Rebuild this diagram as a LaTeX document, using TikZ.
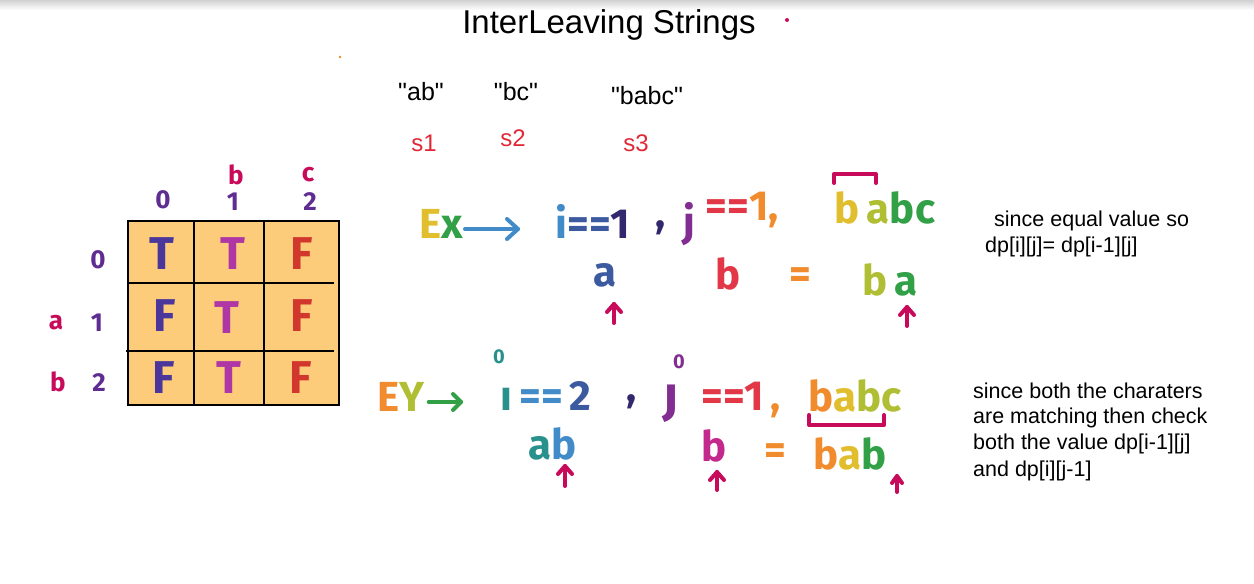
\documentclass[tikz,border=0pt]{standalone}
\usepackage{fontspec}
\usetikzlibrary{calc}
\setmainfont{Liberation Sans}
\newfontfamily\hf{Liberation Sans}
\newfontfamily\mk{Fira Sans}
\newcommand{\fsz}[1]{\fontsize{#1}{#1}\selectfont}
\definecolor{crim}{RGB}{200,10,90}
\definecolor{pur}{RGB}{95,45,145}
\definecolor{sred}{RGB}{225,40,55}
\definecolor{cellfill}{RGB}{252,204,122}
\definecolor{cA}{RGB}{75,55,155}
\definecolor{cB}{RGB}{175,55,165}
\definecolor{cC}{RGB}{210,55,45}
\definecolor{yel}{RGB}{225,190,45}
\definecolor{grn}{RGB}{50,160,70}
\definecolor{blu}{RGB}{65,140,200}
\definecolor{dblu}{RGB}{60,90,160}
\definecolor{navy}{RGB}{50,40,110}
\definecolor{vio}{RGB}{130,45,145}
\definecolor{red2}{RGB}{225,55,70}
\definecolor{ora}{RGB}{240,140,45}
\definecolor{ygr}{RGB}{175,190,50}
\definecolor{teal2}{RGB}{40,145,140}
\definecolor{mag}{RGB}{195,40,140}
\begin{document}
\begin{tikzpicture}[x=1pt,y=-1pt,
  txt/.style={inner sep=0pt,anchor=center},
  hand/.style={txt,font=\fsz{21.5}},
  strq/.style={txt,font=\hf\fsz{25}},
  mkr/.style={txt,font=\mk\bfseries\fsz{42}},
  cellT/.style={txt,font=\mk\bfseries\fsz{46}},
  lab/.style={txt,font=\mk\bfseries\fsz{26}},
  pen/.style={line width=4pt,line cap=round,line join=round},
]
\useasboundingbox (0,0) rectangle (1254,584);
\shade[top color=black!18,bottom color=white] (0,0) rectangle (1254,10);
\fill[crim] (787,20) circle (2);
\fill[ora] (340,57) circle (1.3);
% title and strings
\node[txt,font=\fsz{33}] (title) at (609,25) {InterLeaving Strings};
\node[strq] (s1t) at (421,92) {"ab"};
\node[strq] (s2t) at (516,92) {"bc"};
\node[strq] (s3t) at (647,96) {"babc"};
\node[txt,font=\fsz{24},text=sred] (s1) at (424,143) {s1};
\node[txt,font=\fsz{24},text=sred] (s2) at (513,138) {s2};
\node[txt,font=\fsz{24},text=sred] (s3) at (636,143) {s3};
% grid
\fill[cellfill] (128,221) rectangle (339,405);
\draw[line width=2pt] (128,221) rectangle (339,405);
\draw[line width=2pt] (194,221) -- (194,405);
\draw[line width=2pt] (264,221) -- (264,405);
\draw[line width=2pt] (128,283) -- (334,283);
\draw[line width=2pt] (126,351) -- (334,351);
\node[cellT,text=cA] (c00) at (162,254) {T};
\node[cellT,text=cB] (c01) at (233,254) {T};
\node[cellT,text=cC] (c02) at (302,254) {F};
\node[cellT,text=cA] (c10) at (165,316) {F};
\node[cellT,text=cB] (c11) at (227,318) {T};
\node[cellT,text=cC] (c12) at (302,316) {F};
\node[cellT,text=cA] (c20) at (164,378) {F};
\node[cellT,text=cB] (c21) at (229,378) {T};
\node[cellT,text=cC] (c22) at (301,378) {F};
% headers
\node[lab,text=pur] (h0) at (163,200) {0};
\node[lab,text=pur] (h1) at (233,202) {1};
\node[lab,text=pur] (h2) at (310,202) {2};
\node[lab,text=crim] (hb) at (236,175) {b};
\node[lab,text=crim] (hc) at (308,175) {c};
\node[lab,text=pur] (r0) at (98,260) {0};
\node[lab,text=pur] (r1) at (97,323) {1};
\node[lab,text=pur] (r2) at (99,383) {2};
\node[lab,text=crim] (ra) at (56,323) {a};
\node[lab,text=crim] (rb) at (58,382) {b};
% example 1
\node[mkr] (ex1) at (441,224) {\textcolor{yel}{E}\textcolor{grn}{x}};
\coordinate (ex1a) at (518,229);
\draw[pen,color=blu] (ex1.east) ++(2,5) -- (ex1a);
\draw[pen,color=blu] ($(ex1a)+(-11,-10)$) -- (ex1a) -- ($(ex1a)+(-11,10)$);
\node[mkr] (i1) at (593,221) {\textcolor{blu}{i}\textcolor{dblu}{==}\textcolor{navy}{1}};
\node[mkr] (cm1) at (661,228) {\textcolor{navy}{,}};
\node[mkr] (j1) at (689,224) {\textcolor{vio}{j}};
\node[mkr] (eq1) at (742,210) {\textcolor{red2}{==}\textcolor{ora}{1}\textcolor{ora}{,}};
\node[mkr] (w1) at (885,208) {\textcolor{yel}{b}\,\textcolor{ygr}{a}\textcolor{grn}{b}\textcolor{grn}{c}};
\draw[pen,color=crim] (834,183) -- (834,174) -- (876,174) -- (876,183);
\node[mkr] (a1) at (605,275) {\textcolor{dblu}{a}};
\node[mkr] (b1) at (728,274) {\textcolor{red2}{b}};
\node[mkr] (e1) at (800,278) {\textcolor{ora}{=}};
\node[mkr] (ba1) at (890,280) {\textcolor{ygr}{b}\,\textcolor{grn}{a}};
\coordinate (up1) at (614,304);
\coordinate (up2) at (907,307);
\draw[pen,color=crim] (614,323) -- (up1);
\draw[pen,color=crim] ($(up1)+(-7,8)$) -- (up1) -- ($(up1)+(7,8)$);
\draw[pen,color=crim] (907,326) -- (up2);
\draw[pen,color=crim] ($(up2)+(-7,8)$) -- (up2) -- ($(up2)+(7,8)$);
% example 2
\node[mkr] (ex2) at (401,397) {\textcolor{ora}{E}\textcolor{ygr}{Y}};
\coordinate (ex2a) at (461,402);
\draw[pen,color=grn] (ex2.east) ++(4,5) -- (ex2a);
\draw[pen,color=grn] ($(ex2a)+(-8,-8)$) -- (ex2a) -- ($(ex2a)+(-8,8)$);
\node[txt,font=\mk\bfseries\fsz{20},text=teal2] (z1) at (499,357) {0};
\node[mkr] (i2) at (546,396) {\textcolor{teal2}{ı}\,\textcolor{blu}{==}\,\textcolor{dblu}{2}};
\node[mkr] (cm2) at (632,402) {\textcolor{navy}{,}};
\node[txt,font=\mk\bfseries\fsz{20},text=vio] (z2) at (679,362) {0};
\node[txt,font=\mk\bfseries\fsz{50},text=vio] (j2) at (672,404) {ȷ};
\node[mkr] (eq2) at (741,400) {\textcolor{red2}{==1}\,\textcolor{ora}{,}};
\node[mkr] (w2) at (855,396) {\textcolor{ora}{b}\textcolor{yel}{a}\textcolor{ygr}{b}\textcolor{ygr}{c}};
\draw[pen,color=crim] (809,415) -- (809,425) -- (884,425) -- (884,415);
\node[mkr] (ab2) at (553,444) {\textcolor{teal2}{a}\textcolor{blu}{b}};
\node[mkr] (b2) at (714,446) {\textcolor{mag}{b}};
\node[mkr] (e2) at (775,454) {\textcolor{ora}{=}};
\node[mkr] (bab2) at (850,454) {\textcolor{ora}{b}\textcolor{yel}{a}\textcolor{grn}{b}};
\coordinate (up3) at (565,466);
\coordinate (up4) at (717,472);
\coordinate (up5) at (897,476);
\draw[pen,color=crim] (565,486) -- (up3);
\draw[pen,color=crim] ($(up3)+(-7,8)$) -- (up3) -- ($(up3)+(7,8)$);
\draw[pen,color=crim] (717,490) -- (up4);
\draw[pen,color=crim] ($(up4)+(-7,8)$) -- (up4) -- ($(up4)+(7,8)$);
\draw[pen,color=crim] (897,492) -- (up5);
\draw[pen,color=crim] ($(up5)+(-5,7)$) -- (up5) -- ($(up5)+(5,7)$);
% notes
\node[hand,anchor=west] (n1a) at (994,221) {since equal value so};
\node[hand,anchor=west] (n1b) at (985,247) {dp[i][j]= dp[i-1][j]};
\node[hand,anchor=west] (n2a) at (973,391) {since both the charaters};
\node[hand,anchor=west] (n2b) at (973,418) {are matching then check};
\node[hand,anchor=west] (n2c) at (973,444) {both the value dp[i-1][j]};
\node[hand,anchor=west] (n2d) at (973,471) {and dp[i][j-1]};
\end{tikzpicture}
\end{document}
